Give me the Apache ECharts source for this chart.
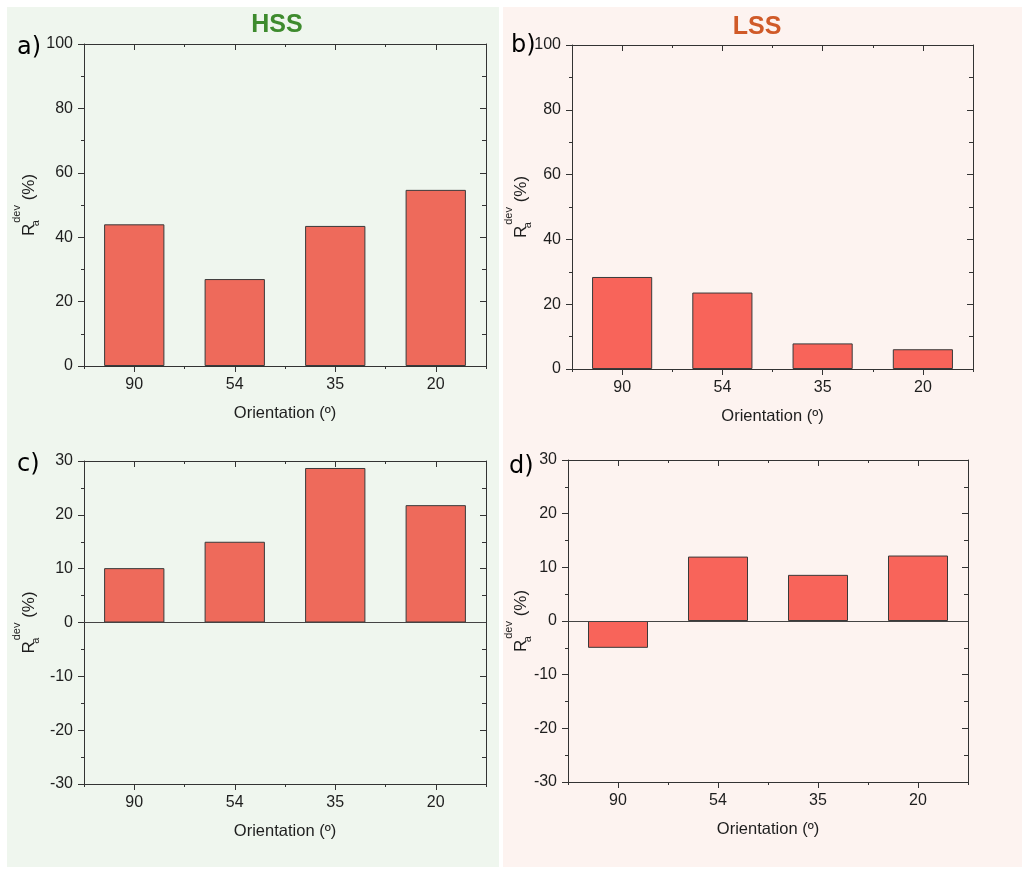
<!DOCTYPE html>
<html>
<head>
<meta charset="utf-8">
<script src="https://cdn.jsdelivr.net/npm/echarts@6/dist/echarts.min.js"></script>
<style>
  html, body { margin: 0; padding: 0; background: #ffffff; }
  #chart { width: 1022px; height: 869px; }
</style>
</head>
<body>
<div id="chart"></div>
<script>
// Orientation categories shared by all four panels
const categories = ['90', '54', '35', '20'];

// R_a^dev (%) per orientation
const hssUpper = [44.0, 27.0, 43.5, 54.7];   // a) HSS
const lssUpper = [28.4, 23.6, 7.9, 6.1];     // b) LSS
const hssLower = [10.1, 15.0, 28.7, 21.8];   // c) HSS
const lssLower = [-5.0, 12.0, 8.6, 12.2];    // d) LSS

// Value-axis tick labels
const upperTicks = [0, 20, 40, 60, 80, 100];
const lowerTicks = [-30, -20, -10, 0, 10, 20, 30];

const xTitle = 'Orientation (\u00BA)';
const panelLetters = ['a)', 'b)', 'c)', 'd)'];
const groupTitles = ['HSS', 'LSS'];

const FONT = '"Liberation Sans", Arial, Helvetica, sans-serif';
const LETTER_FONT = '"DejaVu Sans", Verdana, sans-serif';
const AXIS_COLOR = '#333333';
const TEXT_COLOR = '#1e1e1e';
const HSS_BAR = '#EE6A5B';
const LSS_BAR = '#F8645A';

const panels = [
  { grid: { left: 84,  top: 44,  width: 402, height: 322 }, values: hssUpper, ticks: upperTicks, color: HSS_BAR, zero: false, yGap: 37 },
  { grid: { left: 572, top: 45,  width: 401, height: 324 }, values: lssUpper, ticks: upperTicks, color: LSS_BAR, zero: false, yGap: 33 },
  { grid: { left: 84,  top: 461, width: 402, height: 323 }, values: hssLower, ticks: lowerTicks, color: HSS_BAR, zero: true,  yGap: 37 },
  { grid: { left: 568, top: 460, width: 400, height: 322 }, values: lssLower, ticks: lowerTicks, color: LSS_BAR, zero: true,  yGap: 29 }
];

const lineStyle = { color: AXIS_COLOR, width: 1 };

const grids = [];
const xAxes = [];
const yAxes = [];
const series = [];

panels.forEach((p, i) => {
  grids.push(Object.assign({ containLabel: false }, p.grid));

  const ticks = p.ticks;
  const yMin = ticks[0];
  const yMax = ticks[ticks.length - 1];
  const yStep = ticks[1] - ticks[0];

  const baseX = {
    type: 'category', gridIndex: i, data: categories, boundaryGap: true,
    splitLine: { show: false }
  };
  // bottom: long ticks at category centres with labels
  xAxes.push(Object.assign({}, baseX, {
    position: 'bottom',
    axisLine: { show: true, onZero: false, lineStyle },
    axisTick: { show: true, alignWithLabel: true, length: 6, inside: false, lineStyle },
    axisLabel: { show: true, margin: 11, fontSize: 16, fontFamily: FONT, color: TEXT_COLOR },
    name: xTitle, nameLocation: 'middle', nameGap: 39, nameMoveOverlap: false,
    nameTextStyle: { fontSize: 16.5, fontFamily: FONT, color: TEXT_COLOR }
  }));
  // bottom: short ticks at category boundaries
  xAxes.push(Object.assign({}, baseX, {
    position: 'bottom',
    axisLine: { show: false, onZero: false },
    axisTick: { show: true, alignWithLabel: false, length: 3, inside: false, lineStyle },
    axisLabel: { show: false }
  }));
  // top frame: inward ticks at centres
  xAxes.push(Object.assign({}, baseX, {
    position: 'top',
    axisLine: { show: true, onZero: false, lineStyle },
    axisTick: { show: true, alignWithLabel: true, length: 6, inside: true, lineStyle },
    axisLabel: { show: false }
  }));
  // top frame: inward ticks at boundaries
  xAxes.push(Object.assign({}, baseX, {
    position: 'top',
    axisLine: { show: false, onZero: false },
    axisTick: { show: true, alignWithLabel: false, length: 3, inside: true, lineStyle },
    axisLabel: { show: false }
  }));

  const baseY = {
    type: 'value', gridIndex: i, min: yMin, max: yMax, interval: yStep,
    splitLine: { show: false }
  };
  yAxes.push(Object.assign({}, baseY, {
    position: 'left',
    axisLine: { show: true, onZero: false, lineStyle },
    axisTick: { show: true, length: 6, inside: false, lineStyle },
    minorTick: { show: true, splitNumber: 2, length: 3, lineStyle },
    axisLabel: { show: true, margin: 11, fontSize: 16, fontFamily: FONT, color: TEXT_COLOR },
    name: '{r|R}{sub|a}{sup|dev}{r| (%)}',
    nameLocation: 'middle', nameGap: p.yGap, nameMoveOverlap: false,
    nameTextStyle: {
      rich: {
        r:   { fontSize: 17, fontFamily: FONT, color: TEXT_COLOR, lineHeight: 36 },
        sub: { fontSize: 11, fontFamily: FONT, color: TEXT_COLOR, verticalAlign: 'middle', padding: [14, 0, 0, 0], width: 1 },
        sup: { fontSize: 11, fontFamily: FONT, color: TEXT_COLOR, verticalAlign: 'top' }
      }
    }
  }));
  yAxes.push(Object.assign({}, baseY, {
    position: 'right',
    axisLine: { show: true, onZero: false, lineStyle },
    axisTick: { show: true, length: 6, inside: true, lineStyle },
    minorTick: { show: true, splitNumber: 2, length: 4, lineStyle },
    axisLabel: { show: false }
  }));

  const s = {
    type: 'bar',
    xAxisIndex: i * 4,
    yAxisIndex: i * 2,
    data: p.values,
    barWidth: '60%',
    itemStyle: { color: p.color, borderColor: '#3a3a3a', borderWidth: 1 },
    emphasis: { disabled: true },
    animation: false
  };
  if (p.zero) {
    s.markLine = {
      silent: true, symbol: 'none', animation: false,
      label: { show: false },
      lineStyle: { color: '#444444', width: 1, type: 'solid' },
      data: [{ yAxis: 0 }]
    };
  }
  series.push(s);
});

// Panel backdrops, panel letters and group headings
const graphics = [
  { type: 'rect', z: -100, shape: { x: 7, y: 7, width: 492, height: 860 }, style: { fill: '#EFF6EE' } },
  { type: 'rect', z: -100, shape: { x: 503, y: 7, width: 519, height: 860 }, style: { fill: '#FDF3F0' } }
];
const letterPos = [[17, 36], [511, 34], [17, 453], [509, 455]];
panelLetters.forEach((t, i) => {
  graphics.push({
    type: 'text', x: letterPos[i][0], y: letterPos[i][1],
    style: { text: t, fontSize: 24, fontFamily: LETTER_FONT, fill: '#000000',
             textAlign: 'left', textVerticalAlign: 'alphabetic' }
  });
});
const titleColors = ['#3E8B2E', '#D05A28'];
const titlePos = [[277, 25], [757, 27]];
groupTitles.forEach((t, i) => {
  graphics.push({
    type: 'text', x: titlePos[i][0], y: titlePos[i][1],
    style: { text: t, fontSize: 25, fontWeight: 'bold', fontFamily: FONT, fill: titleColors[i],
             textAlign: 'center', textVerticalAlign: 'middle' }
  });
});

const chart = echarts.init(document.getElementById('chart'), null, { renderer: 'canvas' });
chart.setOption({
  animation: false,
  backgroundColor: '#ffffff',
  grid: grids,
  xAxis: xAxes,
  yAxis: yAxes,
  series: series,
  graphic: graphics
});
</script>
</body>
</html>
